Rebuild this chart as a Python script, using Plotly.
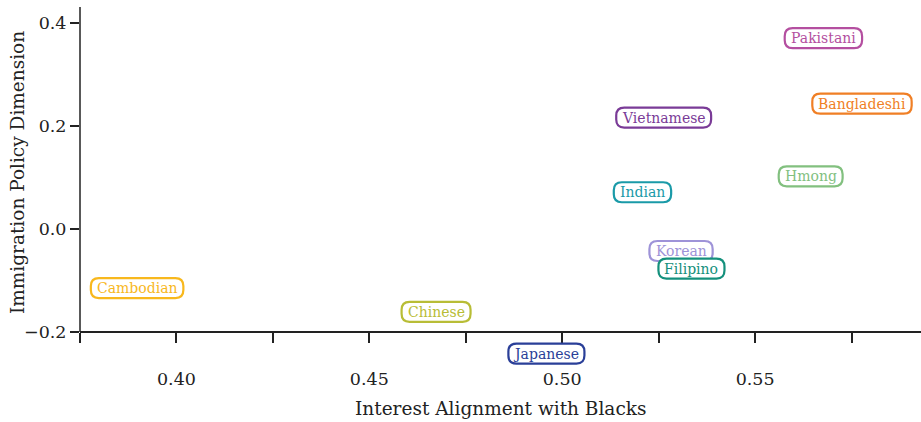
import glob
import struct
import plotly.graph_objects as go

groups = ["Pakistani", "Bangladeshi", "Vietnamese", "Hmong", "Indian",
          "Korean", "Filipino", "Chinese", "Japanese", "Cambodian"]
interest_alignment = [0.5677, 0.5777, 0.5263, 0.5644, 0.5208,
                      0.5308, 0.5335, 0.4673, 0.4959, 0.3898]
immigration_policy = [0.370, 0.243, 0.216, 0.102, 0.071,
                      -0.043, -0.077, -0.161, -0.242, -0.115]
colors = ["#b44fa0", "#f07f25", "#7a3b97", "#82c07f", "#1a9aa8",
          "#9e93d8", "#14907c", "#b8bd36", "#2a3f98", "#f8b81d"]

x_ticks = [0.40, 0.45, 0.50, 0.55]
y_ticks = [-0.2, 0.0, 0.2, 0.4]

FONT = "DejaVu Serif"
INK = "#222222"
LABEL_SIZE = 14

y_range = [-0.27, 0.4305]
axis_y = -0.2
x_range = [0.375, 0.593]


def make_measurer():
    """Return a text-width function from the font's own advance widths."""
    paths = glob.glob("/usr/share/fonts/**/DejaVuSerif.ttf", recursive=True)
    try:
        data = open(paths[0], "rb").read()
        ntab = struct.unpack(">H", data[4:6])[0]
        tabs = {}
        for i in range(ntab):
            tag, _, off, ln = struct.unpack(">4sIII", data[12 + 16 * i:28 + 16 * i])
            tabs[tag.decode("latin1")] = off
        upem = struct.unpack(">H", data[tabs["head"] + 18:tabs["head"] + 20])[0]
        nhm = struct.unpack(">H", data[tabs["hhea"] + 34:tabs["hhea"] + 36])[0]
        hm = tabs["hmtx"]
        adv = [struct.unpack(">H", data[hm + 4 * i:hm + 4 * i + 2])[0] for i in range(nhm)]
        cm = tabs["cmap"]
        nsub = struct.unpack(">H", data[cm + 2:cm + 4])[0]
        sub = None
        for i in range(nsub):
            pid, eid, off = struct.unpack(">HHI", data[cm + 4 + 8 * i:cm + 12 + 8 * i])
            if pid == 3 and eid == 1:
                sub = cm + off
        seg2 = struct.unpack(">H", data[sub + 6:sub + 8])[0]
        seg = seg2 // 2
        ends = struct.unpack(">%dH" % seg, data[sub + 14:sub + 14 + seg2])
        so = sub + 16 + seg2
        starts = struct.unpack(">%dH" % seg, data[so:so + seg2])
        do = so + seg2
        deltas = struct.unpack(">%dh" % seg, data[do:do + seg2])
        ro = do + seg2
        ros = struct.unpack(">%dH" % seg, data[ro:ro + seg2])

        def gid(ch):
            c = ord(ch)
            for i in range(seg):
                if ends[i] >= c:
                    if starts[i] > c:
                        return 0
                    if ros[i] == 0:
                        return (c + deltas[i]) & 0xFFFF
                    addr = ro + 2 * i + ros[i] + 2 * (c - starts[i])
                    g = struct.unpack(">H", data[addr:addr + 2])[0]
                    return (g + deltas[i]) & 0xFFFF if g else 0
            return 0

        def width(s, size):
            return sum(adv[min(gid(ch), nhm - 1)] for ch in s) * size / upem
        return width
    except Exception:
        return lambda s, size: 0.6 * size * len(s)


text_width = make_measurer()


def pill(w, h, r):
    return (f"M {-w + r},{-h} L {w - r},{-h} Q {w},{-h} {w},{-h + r} "
            f"L {w},{h - r} Q {w},{h} {w - r},{h} L {-w + r},{h} "
            f"Q {-w},{h} {-w},{h - r} L {-w},{-h + r} Q {-w},{-h} {-w + r},{-h} Z")


fig = go.Figure()
fig.add_trace(go.Scatter(x=interest_alignment, y=immigration_policy, mode="markers",
                         marker=dict(size=1, color="rgba(0,0,0,0)"), hoverinfo="skip",
                         showlegend=False))

for g, xv, yv, c in zip(groups, interest_alignment, immigration_policy, colors):
    half_w = text_width(g, LABEL_SIZE) / 2 + 6
    fig.add_shape(type="path", xref="x", yref="y", xsizemode="pixel", ysizemode="pixel",
                  xanchor=xv, yanchor=yv, path=pill(half_w, 10, 8),
                  line=dict(color=c, width=2.2), fillcolor="white", layer="above")
    fig.add_annotation(x=xv, y=yv, text=g, showarrow=False,
                       font=dict(family=FONT, size=LABEL_SIZE, color=c))

fig.add_shape(type="line", xref="paper", yref="y", x0=0, x1=0, y0=axis_y, y1=y_range[1],
              line=dict(color=INK, width=1.5), layer="above")

fig.update_layout(
    width=921, height=422,
    margin=dict(l=80, r=0, t=7, b=54, autoexpand=False),
    plot_bgcolor="white", paper_bgcolor="white",
    font=dict(family=FONT, size=17, color=INK),
    showlegend=False,
    xaxis=dict(range=x_range, anchor="free", automargin=False,
               position=(axis_y - y_range[0]) / (y_range[1] - y_range[0]),
               tickvals=x_ticks, ticktext=[f"{v:.2f}" for v in x_ticks],
               ticks="outside", ticklen=10, tickwidth=1.5, tickcolor=INK,
               minor=dict(dtick=0.025, tick0=0.375, ticks="outside", ticklen=10,
                          tickwidth=1.5, tickcolor=INK, showgrid=False),
               showline=True, linecolor=INK, linewidth=1.5,
               showgrid=False, zeroline=False, ticklabelstandoff=21,
               tickfont=dict(size=17.5)),
    yaxis=dict(range=y_range, tickvals=y_ticks, automargin=False,
               ticktext=["\u22120.2", "0.0", "0.2", "0.4"],
               ticks="outside", ticklen=9, tickwidth=1.5, tickcolor=INK,
               showline=False, showgrid=False, zeroline=False,
               tickfont=dict(size=17.5)),
)

fig.add_annotation(xref="paper", yref="paper", x=0.5, y=(368 - 408) / 361,
                   text="Interest Alignment with Blacks", showarrow=False,
                   font=dict(family=FONT, size=18.5, color=INK), yanchor="middle")
fig.add_annotation(xref="paper", x=(17 - 80) / 841, yref="y", y=(228.7 - 173) / 515,
                   text="Immigration Policy Dimension", showarrow=False, textangle=-90,
                   font=dict(family=FONT, size=18.5, color=INK), xanchor="center", yanchor="middle")

fig.write_html("out.html", config={"displayModeBar": False},
               post_script="document.body.style.margin='0';")
